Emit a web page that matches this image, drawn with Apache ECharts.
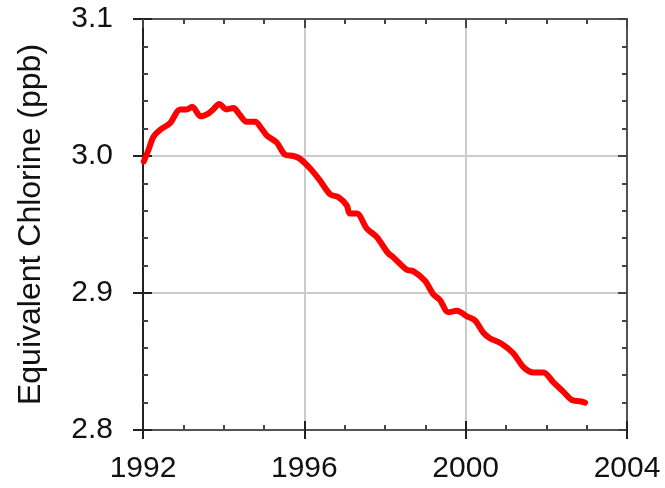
<!DOCTYPE html>
<html lang="en">
<head>
  <meta charset="UTF-8">
  <title>Equivalent Chlorine</title>
  <style>
    html, body { margin: 0; padding: 0; background: #fff; }
    #chart { width: 665px; height: 488px; }
  </style>
</head>
<body>
  <div id="chart"></div>
  <script src="https://cdn.jsdelivr.net/npm/echarts@6/dist/echarts.min.js"></script>
  <script>
    // values
    const years = [1992.02, 1992.13, 1992.26, 1992.42, 1992.67, 1992.92,
      1993.08, 1993.22, 1993.43, 1993.62, 1993.74, 1993.89,
      1994.07, 1994.24, 1994.40, 1994.57, 1994.78, 1994.94,
      1995.07, 1995.31, 1995.52, 1995.73, 1995.89,
      1996.14, 1996.39, 1996.64, 1996.84,
      1997.05, 1997.13, 1997.30, 1997.55, 1997.79,
      1998.08, 1998.21, 1998.54, 1998.70, 1998.99,
      1999.20, 1999.36, 1999.57, 1999.78,
      2000.03, 2000.23, 2000.44, 2000.60, 2000.89,
      2001.18, 2001.43, 2001.68, 2001.93,
      2002.17, 2002.42, 2002.63, 2002.84, 2002.96]
    const chlorine = [2.996, 3.004, 3.014, 3.019, 3.024, 3.034,
      3.034, 3.036, 3.029, 3.031, 3.034, 3.038,
      3.034, 3.035, 3.030, 3.025, 3.025, 3.020,
      3.015, 3.010, 3.001, 3.000, 2.998,
      2.991, 2.982, 2.972, 2.970,
      2.964, 2.958, 2.958, 2.947, 2.941,
      2.929, 2.926, 2.917, 2.916, 2.909,
      2.899, 2.895, 2.886, 2.887,
      2.883, 2.880, 2.871, 2.867, 2.863,
      2.856, 2.846, 2.842, 2.842,
      2.835, 2.828, 2.822, 2.821, 2.820]
    const yearTicks = [1992, 1996, 2000, 2004]
    const ppbTicks = [2.8, 2.9, 3.0, 3.1]

    const font = 'Liberation Sans, Arial, sans-serif'
    const frame = '#555'

    const chart = echarts.init(document.getElementById('chart'))

    const xBase = { type: 'value', min: yearTicks[0], max: yearTicks[yearTicks.length - 1], interval: 4 }
    const yBase = { type: 'value', min: ppbTicks[0], max: ppbTicks[ppbTicks.length - 1], interval: 0.1 }

    const option = {
      animation: false,
      grid: { left: 143, right: 38, top: 19, bottom: 58 },
      xAxis: [
        Object.assign({}, xBase, {
          position: 'bottom',
          axisLine: { lineStyle: { color: frame, width: 2 } },
          axisTick: { show: true, inside: false, length: 9, lineStyle: { color: '#222', width: 2 } },
          minorTick: { show: false },
          splitLine: { show: true, lineStyle: { color: '#ccc', width: 2 } },
          axisLabel: { color: '#111', fontSize: 30, fontFamily: font, margin: 24,
            formatter: v => yearTicks.includes(v) ? String(v) : '' }
        }),
        Object.assign({}, xBase, {
          position: 'bottom',
          axisLine: { show: false },
          axisTick: { show: true, inside: true, length: 9, lineStyle: { color: '#222', width: 2 } },
          minorTick: { show: true, splitNumber: 4, length: 5, lineStyle: { color: '#444', width: 2 } },
          splitLine: { show: false },
          axisLabel: { show: false }
        }),
        Object.assign({}, xBase, {
          position: 'top',
          axisLine: { lineStyle: { color: frame, width: 2 } },
          axisTick: { show: true, inside: true, length: 9, lineStyle: { color: '#444', width: 2 } },
          minorTick: { show: true, splitNumber: 4, length: 5, lineStyle: { color: '#444', width: 2 } },
          splitLine: { show: false },
          axisLabel: { show: false }
        })
      ],
      yAxis: [
        Object.assign({}, yBase, {
          position: 'left',
          name: 'Equivalent Chlorine (ppb)',
          nameLocation: 'middle',
          nameGap: 96,
          nameTextStyle: { color: '#111', fontSize: 32, fontFamily: font },
          axisLine: { lineStyle: { color: '#222', width: 2 } },
          axisTick: { show: true, inside: false, length: 10, lineStyle: { color: '#222', width: 2 } },
          splitLine: { show: true, lineStyle: { color: '#ccc', width: 2 } },
          axisLabel: { color: '#111', fontSize: 30, fontFamily: font, margin: 30,
            formatter: v => v.toFixed(1) }
        }),
        Object.assign({}, yBase, {
          position: 'left',
          axisLine: { show: false },
          axisTick: { show: true, inside: true, length: 9, lineStyle: { color: '#222', width: 2 } },
          minorTick: { show: true, splitNumber: 5, length: 5, lineStyle: { color: '#444', width: 2 } },
          splitLine: { show: false },
          axisLabel: { show: false }
        }),
        Object.assign({}, yBase, {
          position: 'right',
          axisLine: { lineStyle: { color: frame, width: 2 } },
          axisTick: { show: true, inside: true, length: 9, lineStyle: { color: '#444', width: 2 } },
          minorTick: { show: true, splitNumber: 5, length: 5, lineStyle: { color: '#444', width: 2 } },
          splitLine: { show: false },
          axisLabel: { show: false }
        })
      ],
      series: [{
        type: 'line',
        xAxisIndex: 0,
        yAxisIndex: 0,
        data: years.map((t, i) => [t, chlorine[i]]),
        showSymbol: false,
        smooth: 0.3,
        lineStyle: { color: '#ff0000', width: 6, cap: 'round', join: 'round' }
      }]
    }

    chart.setOption(option)
  </script>
</body>
</html>
